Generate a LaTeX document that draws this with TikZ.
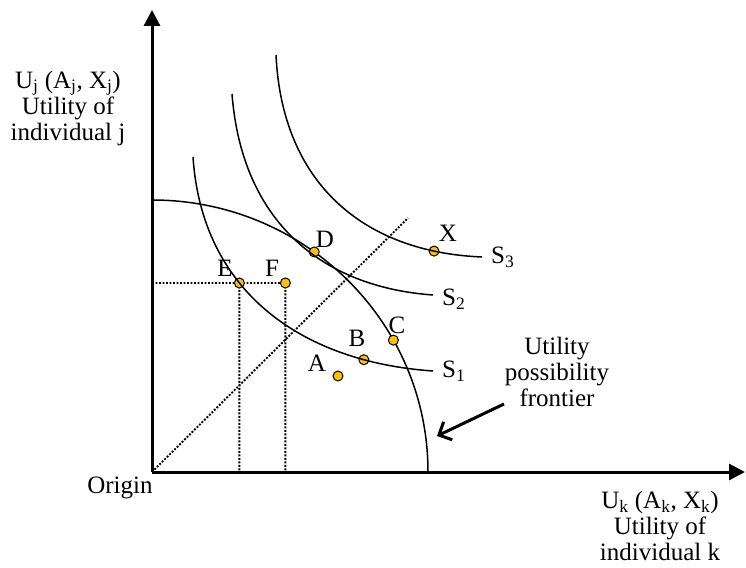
\documentclass[tikz,border=0pt]{standalone}
\usepackage{fontspec}
\setmainfont{Liberation Serif}
\usetikzlibrary{arrows.meta,backgrounds}
\definecolor{oro}{HTML}{FFC000}

\begin{document}
\begin{tikzpicture}[x=1pt, y=1pt, font=\fontsize{25}{26}\selectfont,
    scurve/.style={line width=1.5pt},
    axisline/.style={line width=3pt, -{Triangle[length=16pt,width=16pt]}},
    guide/.style={line width=1.9pt, dash pattern=on 1.9pt off 1.6pt},
    pointer/.style={line width=3pt, -{Straight Barb[length=10pt,width=20pt]}},
    dot/.style={circle, draw, line width=1pt, fill=oro, minimum size=10pt, inner sep=0pt}]
  \useasboundingbox (-152,-95) rectangle (594,472);
  \coordinate (O) at (0,0);
  \draw[axisline] (O) -- (0,462);
  \draw[axisline] (O) -- (593,0);

  \draw[scurve] (41,315) .. controls (50,180) and (150,110) .. (281,101)
    coordinate[pos=0.38] (e) coordinate[pos=0.815] (b) coordinate (s1);
  \draw[scurve] (80,378) .. controls (90,250) and (170,185) .. (281,177) coordinate (s2);
  \draw[scurve] (124,417) .. controls (130,290) and (210,220) .. (330,215)
    coordinate[pos=0.86] (x) coordinate (s3);

  \begin{scope}[on background layer]
    \path (e) ++(46,0) coordinate (f);
    \coordinate (diag) at (256,254);
    \draw[guide] (O |- e) -- (f) (e) -- (e |- O) (f) -- (f |- O) (O) -- (diag);
    \draw[scurve] (0,272) arc[start angle=90, end angle=0, x radius=276, y radius=272];
    \node[dot] (D) at (54:276 and 272) {};
    \node[dot] (C) at (29:276 and 272) {};
    \node[dot] (E) at (e) {};
    \node[dot] (F) at (f) {};
    \node[dot] (B) at (b) {};
    \node[dot] (A) at (186,96) {};
    \node[dot] (X) at (x) {};
  \end{scope}

  \node (lblD) at (173,233) {D};
  \node (lblC) at (245,147) {C};
  \node (lblB) at (205,134) {B};
  \node (lblA) at (165,109) {A};
  \node (lblE) at (73,204) {E};
  \node (lblF) at (120,204) {F};
  \node (lblX) at (296,239) {X};
  \node[anchor=west, inner sep=0pt] (lblS1) at ([xshift=9pt]s1) {S\textsubscript{1}};
  \node[anchor=west, inner sep=0pt] (lblS2) at ([xshift=9pt,yshift=-4pt]s2) {S\textsubscript{2}};
  \node[anchor=west, inner sep=0pt] (lblS3) at ([xshift=9pt]s3) {S\textsubscript{3}};

  \node[align=center] (ylbl) at (-84,364)
    {U\textsubscript{j} (A\textsubscript{j}, X\textsubscript{j})\\Utility of\\individual j};
  \node[align=center] (xlbl) at (508,-54)
    {U\textsubscript{k} (A\textsubscript{k}, X\textsubscript{k})\\Utility of\\individual k};
  \node (orig) at (-32,-16) {Origin};
  \node[align=center] (flbl) at (405,100) {Utility\\possibility\\frontier};
  \coordinate (tail) at (352,68);
  \coordinate (head) at (285,36);
  \draw[pointer] (tail) -- (head);
\end{tikzpicture}
\end{document}
